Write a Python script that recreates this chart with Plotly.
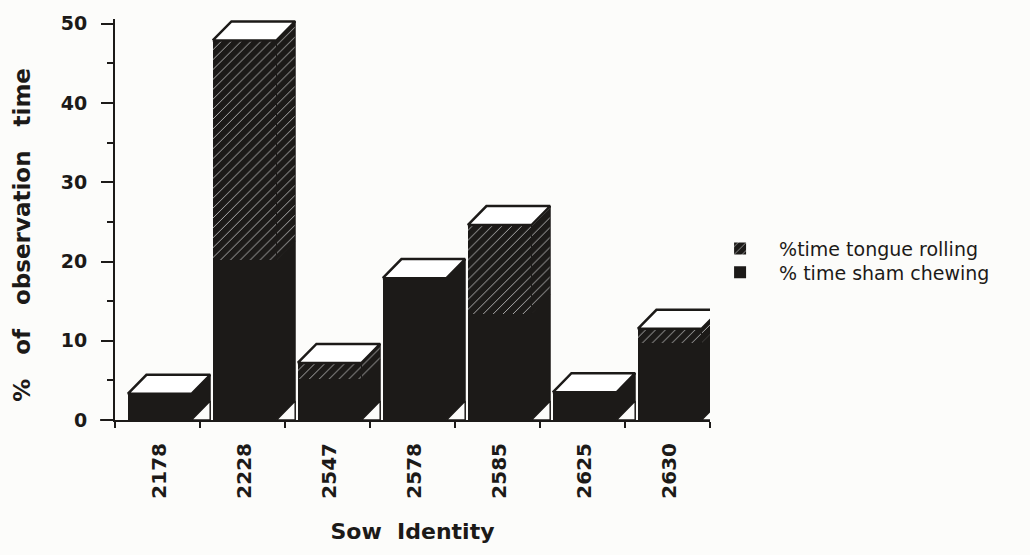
import plotly.graph_objects as go

# Sow identities and the two stacked behaviours (% of observation time)
sows = ["2178", "2228", "2547", "2578", "2585", "2625", "2630"]
sham_chewing = [3.3, 20.2, 5.2, 17.9, 13.4, 3.5, 9.7]
tongue_rolling = [0.0, 27.7, 2.0, 0.0, 11.2, 0.0, 1.8]

y_ticks = [0, 10, 20, 30, 40, 50]

INK = "#1c1a18"
PAPER = "#fcfcfa"

# box geometry (front face offset/width in category units, depth offset)
FRONT_OFF = -0.35
FRONT_W = 0.75
DX = 0.22
DY = 2.4

idx = list(range(len(sows)))
totals = [s + t for s, t in zip(sham_chewing, tongue_rolling)]

pattern = dict(shape="/", bgcolor=INK, fgcolor="#b8b8b8", size=7,
               solidity=0.13, fillmode="replace")


def side_faces(lows, highs):
    xs, ys = [], []
    for i, lo, hi in zip(idx, lows, highs):
        if hi - lo <= 0:
            continue
        fr = i + FRONT_OFF + FRONT_W
        xs += [fr, fr + DX, fr + DX, fr, fr, None]
        ys += [lo, lo + DY, hi + DY, hi, lo, None]
    return xs, ys


def top_faces(tops):
    xs, ys = [], []
    for i, v in zip(idx, tops):
        fl = i + FRONT_OFF
        fr = fl + FRONT_W
        xs += [fl, fl + DX, fr + DX, fr, fl, None]
        ys += [v, v + DY, v + DY, v, v, None]
    return xs, ys


def base_triangles():
    xs, ys = [], []
    for i in idx:
        fr = i + FRONT_OFF + FRONT_W
        xs += [fr, fr + DX, fr + DX, fr, None]
        ys += [0, 0, DY, 0, None]
    return xs, ys


fig = go.Figure()

fig.add_trace(go.Bar(
    x=idx, y=sham_chewing, name="% time sham chewing",
    width=FRONT_W, offset=FRONT_OFF,
    marker=dict(color=INK, line=dict(width=0)),
    hoverinfo="skip", legend="legend2",
))
fig.add_trace(go.Bar(
    x=idx, y=tongue_rolling, name="%time tongue rolling",
    width=FRONT_W, offset=FRONT_OFF,
    marker=dict(color=INK, line=dict(width=0), pattern=pattern),
    hoverinfo="skip", legend="legend",
))

# right-hand side faces of each box
sx, sy = side_faces([0] * len(idx), sham_chewing)
fig.add_trace(go.Scatter(
    x=sx, y=sy, mode="lines", fill="toself", fillcolor=INK,
    line=dict(color=INK, width=1), showlegend=False, hoverinfo="skip",
))
tx, ty = side_faces(sham_chewing, totals)
fig.add_trace(go.Scatter(
    x=tx, y=ty, mode="lines", fill="toself", fillpattern=pattern,
    fillcolor=INK, line=dict(color=INK, width=1), showlegend=False,
    hoverinfo="skip",
))

# white floor triangles under the side faces
bx, by = base_triangles()
fig.add_trace(go.Scatter(
    x=bx, y=by, mode="lines", fill="toself", fillcolor=PAPER,
    line=dict(color=INK, width=1.5), showlegend=False, hoverinfo="skip",
))

# white top faces
qx, qy = top_faces(totals)
fig.add_trace(go.Scatter(
    x=qx, y=qy, mode="lines", fill="toself", fillcolor="white",
    line=dict(color=INK, width=2.5), showlegend=False, hoverinfo="skip",
))

# short stub of the baseline left of the value axis
fig.add_shape(type="line", xref="paper", yref="paper",
              x0=-0.025, x1=0, y0=0, y1=0,
              line=dict(color=INK, width=2))

# value-axis title
fig.add_annotation(
    text="%   of   observation   time", textangle=-90,
    xref="paper", yref="paper", x=-0.1563, y=0.4617,
    xanchor="center", yanchor="middle", showarrow=False,
    font=dict(family="DejaVu Sans", size=23, color=INK, weight="bold"),
)

legend_common = dict(
    xanchor="left", yanchor="middle", itemwidth=68,
    font=dict(family="DejaVu Sans", size=19, color=INK),
    bgcolor="rgba(0,0,0,0)",
)

fig.update_layout(
    width=1030, height=555,
    margin=dict(l=115, r=320, t=15, b=135),
    paper_bgcolor=PAPER, plot_bgcolor=PAPER,
    barmode="stack", bargap=0,
    font=dict(family="DejaVu Sans", color=INK),
    showlegend=True,
    legend=dict(x=0.985, y=0.427, **legend_common),
    legend2=dict(x=0.985, y=0.368, **legend_common),
    xaxis=dict(
        range=[-0.5, 6.5],
        tickmode="array",
        tickvals=[i + FRONT_OFF + FRONT_W / 2 for i in idx],
        ticktext=sows,
        tickangle=-90,
        ticks="",
        ticklabelstandoff=13,
        tickfont=dict(family="DejaVu Sans", size=20, color=INK, weight="bold"),
        minor=dict(tickmode="array", tickvals=[i - 0.5 for i in range(len(sows) + 1)],
                   ticks="outside", ticklen=6, tickwidth=2, tickcolor=INK),
        showline=True, linewidth=2, linecolor=INK,
        showgrid=False, zeroline=False,
        title=dict(text="Sow  Identity", standoff=26,
                   font=dict(family="DejaVu Sans", size=22, color=INK, weight="bold")),
    ),
    yaxis=dict(
        range=[0, 50.6],
        tickmode="array", tickvals=y_ticks,
        ticks="outside", ticklen=12, tickwidth=2, tickcolor=INK,
        minor=dict(dtick=5, ticks="outside", ticklen=6, tickwidth=2, tickcolor=INK),
        tickfont=dict(family="DejaVu Sans", size=19, color=INK, weight="bold"),
        ticklabelstandoff=10,
        showline=True, linewidth=2, linecolor=INK,
        showgrid=False, zeroline=False,
    ),
)

fig.write_html("out.html")
